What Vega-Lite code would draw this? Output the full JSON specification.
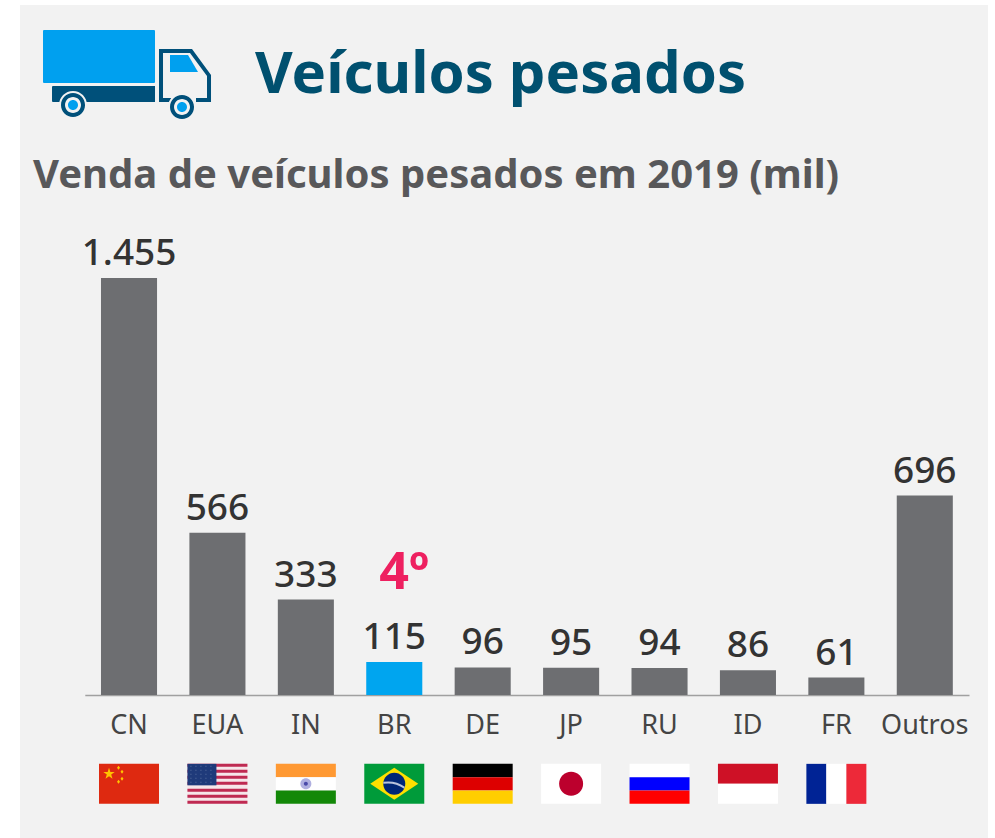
{
"$schema":"https://vega.github.io/schema/vega-lite/v6.json",
"autosize":{"type":"none"},
"width":968,"height":833,
"padding":{"left":20,"top":5,"right":7,"bottom":0},
"background":"#ffffff",
"view":{"fill":"#f2f2f2","stroke":null},
"title":{"text":"Veículos pesados","anchor":"start","frame":"group","offset":0,"dx":235,"dy":100,"font":"Noto Sans","fontSize":58,"fontWeight":"bold","color":"#00506f"},
"datasets":{
"vendas":[
{"pais":"CN","vendas":1455,"rotulo":"1.455"},
{"pais":"EUA","vendas":566,"rotulo":"566"},
{"pais":"IN","vendas":333,"rotulo":"333"},
{"pais":"BR","vendas":115,"rotulo":"115"},
{"pais":"DE","vendas":96,"rotulo":"96"},
{"pais":"JP","vendas":95,"rotulo":"95"},
{"pais":"RU","vendas":94,"rotulo":"94"},
{"pais":"ID","vendas":86,"rotulo":"86"},
{"pais":"FR","vendas":61,"rotulo":"61"},
{"pais":"Outros","vendas":696,"rotulo":"696"}],
"caminhao":[
{"pais":"CN","forma":"caixa","cor":"azul"},
{"pais":"CN","forma":"chassi","cor":"petroleo"},
{"pais":"CN","forma":"cabine","cor":"petroleo"},
{"pais":"CN","forma":"janela","cor":"azul"},
{"pais":"CN","forma":"roda-halo","cor":"fundo"},
{"pais":"CN","forma":"roda-aro","cor":"petroleo"},
{"pais":"CN","forma":"roda-miolo","cor":"fundo"},
{"pais":"CN","forma":"roda-centro","cor":"azul"}],
"bandeiras":[
{"pais":"CN","forma":"inteira","cor":"cn-vermelho"},
{"pais":"CN","forma":"cn-estrelas","cor":"cn-amarelo"},
{"pais":"EUA","forma":"inteira","cor":"us-branco"},
{"pais":"EUA","forma":"us-listras","cor":"us-vermelho"},
{"pais":"EUA","forma":"us-cantao","cor":"us-azul"},
{"pais":"EUA","forma":"us-pontos","cor":"us-ponto"},
{"pais":"IN","forma":"t3","cor":"in-laranja"},
{"pais":"IN","forma":"m3","cor":"branco"},
{"pais":"IN","forma":"b3","cor":"in-verde"},
{"pais":"IN","forma":"in-roda","cor":"in-lilas"},
{"pais":"IN","forma":"in-cubo","cor":"in-azul"},
{"pais":"BR","forma":"inteira","cor":"br-verde"},
{"pais":"BR","forma":"br-losango","cor":"br-amarelo"},
{"pais":"BR","forma":"br-globo","cor":"br-azul"},
{"pais":"BR","forma":"br-faixa","cor":"br-faixa"},
{"pais":"DE","forma":"t3","cor":"preto"},
{"pais":"DE","forma":"m3","cor":"de-vermelho"},
{"pais":"DE","forma":"b3","cor":"de-amarelo"},
{"pais":"JP","forma":"inteira","cor":"branco"},
{"pais":"JP","forma":"jp-sol","cor":"jp-vermelho"},
{"pais":"RU","forma":"t3","cor":"branco"},
{"pais":"RU","forma":"m3","cor":"ru-azul"},
{"pais":"RU","forma":"b3","cor":"ru-vermelho"},
{"pais":"ID","forma":"t2","cor":"id-vermelho"},
{"pais":"ID","forma":"b2","cor":"branco"},
{"pais":"FR","forma":"e3","cor":"fr-azul"},
{"pais":"FR","forma":"c3","cor":"branco"},
{"pais":"FR","forma":"d3","cor":"fr-vermelho"}]
},
"layer":[
{"data":{"name":"vendas"},
 "mark":{"type":"bar"},
 "encoding":{
  "x":{"field":"pais","type":"nominal","sort":null,
   "scale":{"domain":["CN","EUA","IN","BR","DE","JP","RU","ID","FR","Outros"],"range":[64.8,949],"paddingInner":0.366,"paddingOuter":0.183},
   "axis":{"title":null,"orient":"bottom","offset":-143,"ticks":false,"labelAngle":0,"labelFont":"Noto Sans","labelFontSize":27,"labelColor":"#444444","labelPadding":17,"domainColor":"#a0a0a0","domainWidth":1.5,"grid":false}},
  "y":{"field":"vendas","type":"quantitative","scale":{"domain":[0,1455],"range":[690,273],"nice":false,"zero":false},"axis":null},
  "color":{"condition":{"test":"datum.pais==='BR'","value":"#00a5ef"},"value":"#6d6e71"}}},
{"data":{"name":"vendas"},
 "mark":{"type":"text","dy":-13,"baseline":"alphabetic","font":"Noto Sans","fontSize":37,"fontWeight":500,"color":"#333333"},
 "encoding":{
  "x":{"field":"pais","type":"nominal"},
  "y":{"field":"vendas","type":"quantitative"},
  "text":{"field":"rotulo"}}},
{"data":{"values":[{"t":"4º"}]},
 "mark":{"type":"text","dx":10,"baseline":"alphabetic","font":"Noto Sans","fontSize":52,"fontWeight":"bold","color":"#ee2060"},
 "encoding":{
  "x":{"datum":"BR","type":"nominal"},
  "y":{"datum":370,"type":"quantitative"},
  "text":{"field":"t"}}},
{"data":{"values":[{"t":"Venda de veículos pesados em 2019 (mil)"}]},
 "mark":{"type":"text","align":"left","dx":-96,"baseline":"alphabetic","font":"Noto Sans","fontSize":40,"fontWeight":"bold","color":"#58585a"},
 "encoding":{
  "x":{"datum":"CN","type":"nominal"},
  "y":{"datum":1769,"type":"quantitative"},
  "text":{"field":"t"}}},
{"data":{"name":"caminhao"},
 "mark":{"type":"point","filled":true,"size":4,"opacity":1,"strokeWidth":0},
 "encoding":{
  "x":{"field":"pais","type":"nominal"},
  "y":{"datum":2170,"type":"quantitative"},
  "shape":{"field":"forma","type":"nominal","legend":null,"scale":{
   "domain":["caixa","chassi","cabine","janela","roda-halo","roda-aro","roda-miolo","roda-centro","inteira","t3","m3","b3","t2","b2","e3","c3","d3","cn-estrelas","us-listras","us-cantao","us-pontos","in-roda","in-cubo","br-losango","br-globo","br-faixa","jp-sol"],
   "range":[
    "M-85,-43H25Q26,-43 26,-42V9Q26,10 25,10H-85Q-86,10 -86,9V-42Q-86,-43 -85,-43Z",
    "M-76,13H26V29H-76Q-77,29 -77,28V14Q-77,13 -76,13Z",
    "M30,-24L63,-24L82,2L82,29L67,29L67,25L78,25L78,3L61,-20L34,-20L34,25L42,25L42,29L30,29Z",
    "M41,-18L59,-18L69,-1L41,-1Z",
    "M-70,32A14,14 0 1,0 -42,32A14,14 0 1,0 -70,32ZM39,34A14,14 0 1,0 67,34A14,14 0 1,0 39,34Z",
    "M-68,32A12,12 0 1,0 -44,32A12,12 0 1,0 -68,32ZM41,34A12,12 0 1,0 65,34A12,12 0 1,0 41,34Z",
    "M-64,32A8,8 0 1,0 -48,32A8,8 0 1,0 -64,32ZM45,34A8,8 0 1,0 61,34A8,8 0 1,0 45,34Z",
    "M-61,32A5,5 0 1,0 -51,32A5,5 0 1,0 -61,32ZM48,34A5,5 0 1,0 58,34A5,5 0 1,0 48,34Z",
    "M-30,-20H30V20H-30Z",
    "M-30,-20H30V-6.7H-30Z",
    "M-30,-6.7H30V6.7H-30Z",
    "M-30,6.7H30V20H-30Z",
    "M-30,-20H30V0H-30Z",
    "M-30,0H30V20H-30Z",
    "M-30,-20H-10V20H-30Z",
    "M-10,-20H10V20H-10Z",
    "M10,-20H30V20H10Z",
    "M-20,-16L-18.65,-11.86L-14.3,-11.85L-17.81,-9.29L-16.47,-5.15L-20,-7.7L-23.53,-5.15L-22.19,-9.29L-25.7,-11.85L-21.35,-11.86ZM-10.5,-18L-9,-16L-10.5,-14L-12,-16ZM-7,-14L-5.5,-12L-7,-10L-8.5,-12ZM-7,-7L-5.5,-5L-7,-3L-8.5,-5ZM-10.5,-4L-9,-2L-10.5,0L-12,-2Z",
    "M-30,-20H30V-17H-30ZM-30,-14H30V-11H-30ZM-30,-8H30V-5H-30ZM-30,-2H30V1H-30ZM-30,5H30V8H-30ZM-30,11H30V14H-30ZM-30,17H30V20H-30Z",
    "M-30,-20H-1V1.5H-30Z",
    "M-27,-18h1v1h-1zM-22,-18h1v1h-1zM-17,-18h1v1h-1zM-12,-18h1v1h-1zM-7,-18h1v1h-1zM-27,-14h1v1h-1zM-22,-14h1v1h-1zM-17,-14h1v1h-1zM-12,-14h1v1h-1zM-7,-14h1v1h-1zM-27,-10h1v1h-1zM-22,-10h1v1h-1zM-17,-10h1v1h-1zM-12,-10h1v1h-1zM-7,-10h1v1h-1zM-27,-6h1v1h-1zM-22,-6h1v1h-1zM-17,-6h1v1h-1zM-12,-6h1v1h-1zM-7,-6h1v1h-1zM-27,-2h1v1h-1zM-22,-2h1v1h-1zM-17,-2h1v1h-1zM-12,-2h1v1h-1zM-7,-2h1v1h-1z",
    "M-5.5,0A5.5,5.5 0 1,0 5.5,0A5.5,5.5 0 1,0 -5.5,0Z",
    "M-2,0A2,2 0 1,0 2,0A2,2 0 1,0 -2,0Z",
    "M-24,0L0,-16L24,0L0,16Z",
    "M-11,0A11,11 0 1,0 11,0A11,11 0 1,0 -11,0Z",
    "M-11,-2Q1,-4 10.5,3L10,5Q0,-2 -11,0Z",
    "M-12,0A12,12 0 1,0 12,0A12,12 0 1,0 -12,0Z"]}},
  "color":{"field":"cor","type":"nominal","legend":null,"scale":{
   "domain":["azul","petroleo","fundo","branco","preto","cn-vermelho","cn-amarelo","us-branco","us-vermelho","us-azul","us-ponto","in-laranja","in-verde","in-lilas","in-azul","br-verde","br-amarelo","br-azul","br-faixa","de-vermelho","de-amarelo","jp-vermelho","ru-azul","ru-vermelho","id-vermelho","fr-azul","fr-vermelho"],
   "range":["#00a0ef","#00507a","#f2f2f2","#ffffff","#000000","#de2910","#ffc400","#f6e6ea","#bf2a52","#1f3a7a","#5a70a0","#ff9933","#138808","#b0b0e0","#4a4aa8","#009b3a","#fedf00","#002776","#b8c4dc","#dd0000","#ffce00","#bc002d","#0000ff","#ff0000","#ce1126","#002395","#ed2939"]}}}},
{"data":{"name":"bandeiras"},
 "mark":{"type":"point","filled":true,"size":4,"opacity":1,"strokeWidth":0},
 "encoding":{
  "x":{"field":"pais","type":"nominal"},
  "y":{"datum":-310,"type":"quantitative"},
  "shape":{"field":"forma","type":"nominal","legend":null},
  "color":{"field":"cor","type":"nominal","legend":null}}}
]
}
